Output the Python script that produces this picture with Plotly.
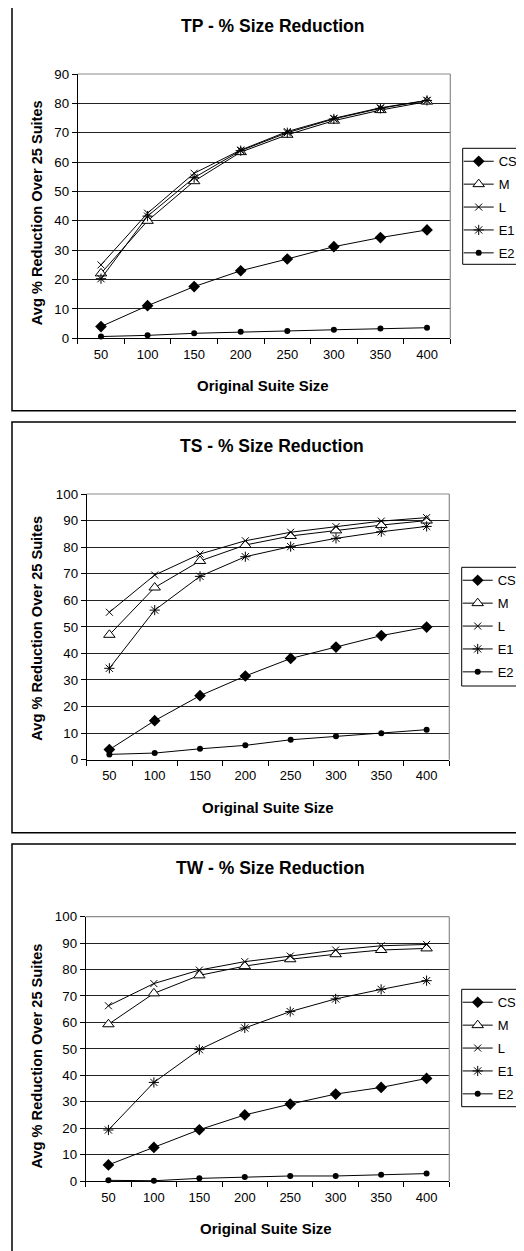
import plotly.graph_objects as go

OFF = 8  # page body margin that the browser adds around the figure
W, H = 524 - OFF, 1251 - OFF

categories = ["50", "100", "150", "200", "250", "300", "350", "400"]
series_names = ["CS", "M", "L", "E1", "E2"]

# TP panel
tp_cs = [4.0, 11.1, 17.6, 23.0, 27.0, 31.2, 34.3, 36.9]
tp_m = [22.1, 40.0, 53.5, 63.4, 69.3, 74.1, 77.7, 80.6]
tp_l = [25.0, 42.6, 56.2, 64.1, 70.4, 74.9, 78.5, 81.0]
tp_e1 = [20.3, 41.6, 54.7, 63.9, 70.0, 74.7, 78.3, 81.0]
tp_e2 = [0.6, 1.0, 1.7, 2.2, 2.5, 2.9, 3.3, 3.6]

# TS panel
ts_cs = [3.8, 14.7, 24.1, 31.5, 38.1, 42.4, 46.7, 49.9]
ts_m = [47.0, 64.8, 74.8, 80.8, 84.2, 86.3, 88.3, 90.0]
ts_l = [55.5, 69.5, 77.4, 82.4, 85.6, 87.7, 89.8, 91.1]
ts_e1 = [34.4, 56.3, 69.0, 76.4, 80.2, 83.3, 85.8, 87.8]
ts_e2 = [2.0, 2.5, 4.1, 5.4, 7.5, 8.8, 10.0, 11.3]

# TW panel
tw_cs = [6.1, 12.7, 19.4, 25.0, 29.1, 32.9, 35.4, 38.8]
tw_m = [59.3, 71.0, 77.8, 81.3, 83.9, 85.8, 87.4, 88.0]
tw_l = [66.3, 74.7, 79.8, 83.0, 85.1, 87.4, 89.0, 89.5]
tw_e1 = [19.3, 37.3, 49.7, 57.9, 64.1, 68.9, 72.5, 75.8]
tw_e2 = [0.25, 0.1, 1.0, 1.5, 1.9, 1.9, 2.4, 2.8]

titles = ["TP - % Size Reduction", "TS - % Size Reduction", "TW - % Size Reduction"]
y_title = "Avg % Reduction Over 25 Suites"
x_title = "Original Suite Size"
y_max = [90, 100, 100]

panels_data = [
    [tp_cs, tp_m, tp_l, tp_e1, tp_e2],
    [ts_cs, ts_m, ts_l, ts_e1, ts_e2],
    [tw_cs, tw_m, tw_l, tw_e1, tw_e2],
]

FONT = "Liberation Sans, Arial, sans-serif"

def fx(x):
    return (x - OFF) / W

def fy(y):
    return 1 - (y - OFF) / H

# layout geometry (page pixels)
plot_boxes = [
    (77.7, 450.3, 74.0, 338.3),
    (86.7, 449.3, 494.0, 759.7),
    (85.7, 449.3, 916.7, 1181.0),
]
outer_boxes = [(12, 1, 540, 410.7), (12, 422, 540, 832.7), (12, 844, 540, 1270)]
title_pos = [(272.5, 26), (271.7, 446), (270.8, 868)]
xtitle_pos = [(262.5, 385), (267.5, 807), (265.8, 1228)]
ytitle_pos = [(36.7, 212.5), (36.7, 628), (36.7, 1055.8)]
legend_box = [(462.7, 148.3, 264.3), (461.7, 567.3, 686.0), (461.7, 989.3, 1106.7)]

marker_styles = {
    "CS": dict(symbol="diamond", size=9, color="black", line=dict(width=0)),
    "M": dict(symbol="triangle-up", size=10, color="white", line=dict(width=1, color="black")),
    "L": dict(symbol="x-thin-open", size=7, color="black", line=dict(width=1, color="black")),
    "E1": dict(symbol="asterisk-open", size=8.5, color="black", line=dict(width=1, color="black")),
    "E2": dict(symbol="circle", size=6, color="black", line=dict(width=0)),
}

fig = go.Figure()
shapes = []
annotations = []
layout_axes = {}

for p in range(3):
    suffix = "" if p == 0 else str(p + 1)
    xa = "x" + suffix
    ya = "y" + suffix
    legend_name = "legend" if p == 0 else "legend" + str(p + 1)
    for name, vals in zip(series_names, panels_data[p]):
        fig.add_trace(go.Scatter(
            x=categories, y=vals, name=name, mode="lines+markers",
            xaxis=xa, yaxis=ya, legend=legend_name, legendgroup=f"{p}-{name}",
            line=dict(color="black", width=1),
            marker=marker_styles[name],
            cliponaxis=False,
        ))
    x0, x1, y0, y1 = plot_boxes[p]
    layout_axes["xaxis" + suffix] = dict(
        domain=[fx(x0), fx(x1)], anchor=ya, type="category",
        categoryorder="array", categoryarray=categories,
        range=[-0.5, 7.5], tickson="boundaries", ticks="outside", ticklen=5,
        tickcolor="black", showline=True, linecolor="black", linewidth=1,
        showgrid=False, zeroline=False, ticklabelstandoff=4,
        tickfont=dict(family=FONT, size=13, color="black"),
    )
    layout_axes["yaxis" + suffix] = dict(
        domain=[fy(y1), fy(y0)], anchor=xa, range=[0, y_max[p]], dtick=10,
        ticks="outside", ticklen=5, tickcolor="black", showline=True,
        linecolor="black", linewidth=1, showgrid=True, gridcolor="#222222",
        gridwidth=1, zeroline=False,
        tickfont=dict(family=FONT, size=13.3, color="black"),
    )
    lx, ly0, ly1 = legend_box[p]
    layout_axes[legend_name] = dict(
        x=fx(lx - 4), y=fy(ly0 - 2), xanchor="left", yanchor="top",
        borderwidth=0, bgcolor="rgba(0,0,0,0)",
        font=dict(family=FONT, size=13, color="black"),
        tracegroupgap=3, traceorder="grouped", itemwidth=30,
    )
    shapes.append(dict(type="rect", xref="paper", yref="paper", x0=fx(lx), x1=fx(560),
                       y0=fy(ly1), y1=fy(ly0), line=dict(color="black", width=1),
                       fillcolor="white", layer="below"))
    # gray plot-area border (top, right)
    shapes.append(dict(type="line", xref="paper", yref="paper", x0=fx(x0), x1=fx(x1),
                       y0=fy(y0), y1=fy(y0), line=dict(color="#8c8c8c", width=1.2)))
    shapes.append(dict(type="line", xref="paper", yref="paper", x0=fx(x1), x1=fx(x1),
                       y0=fy(y0), y1=fy(y1), line=dict(color="#8c8c8c", width=1.2)))
    ox0, oy0, ox1, oy1 = outer_boxes[p]
    shapes.append(dict(type="rect", xref="paper", yref="paper", x0=fx(ox0), x1=fx(ox1),
                       y0=fy(oy1), y1=fy(oy0), line=dict(color="black", width=1.5)))
    tx, ty = title_pos[p]
    annotations.append(dict(text="<b>" + titles[p] + "</b>", x=fx(tx), y=fy(ty),
                            xref="paper", yref="paper", showarrow=False,
                            xanchor="center", yanchor="middle",
                            font=dict(family=FONT, size=17.5, color="black")))
    tx, ty = xtitle_pos[p]
    annotations.append(dict(text="<b>" + x_title + "</b>", x=fx(tx), y=fy(ty),
                            xref="paper", yref="paper", showarrow=False,
                            xanchor="center", yanchor="middle",
                            font=dict(family=FONT, size=15, color="black")))
    tx, ty = ytitle_pos[p]
    annotations.append(dict(text="<b>" + y_title + "</b>", x=fx(tx), y=fy(ty),
                            xref="paper", yref="paper", showarrow=False, textangle=-90,
                            xanchor="center", yanchor="middle",
                            font=dict(family=FONT, size=14.6, color="black")))

fig.update_layout(
    width=W, height=H,
    margin=dict(l=0, r=0, t=0, b=0, autoexpand=False),
    paper_bgcolor="white", plot_bgcolor="white",
    showlegend=True,
    shapes=shapes, annotations=annotations,
    **layout_axes,
)

fig.write_html("out.html")
